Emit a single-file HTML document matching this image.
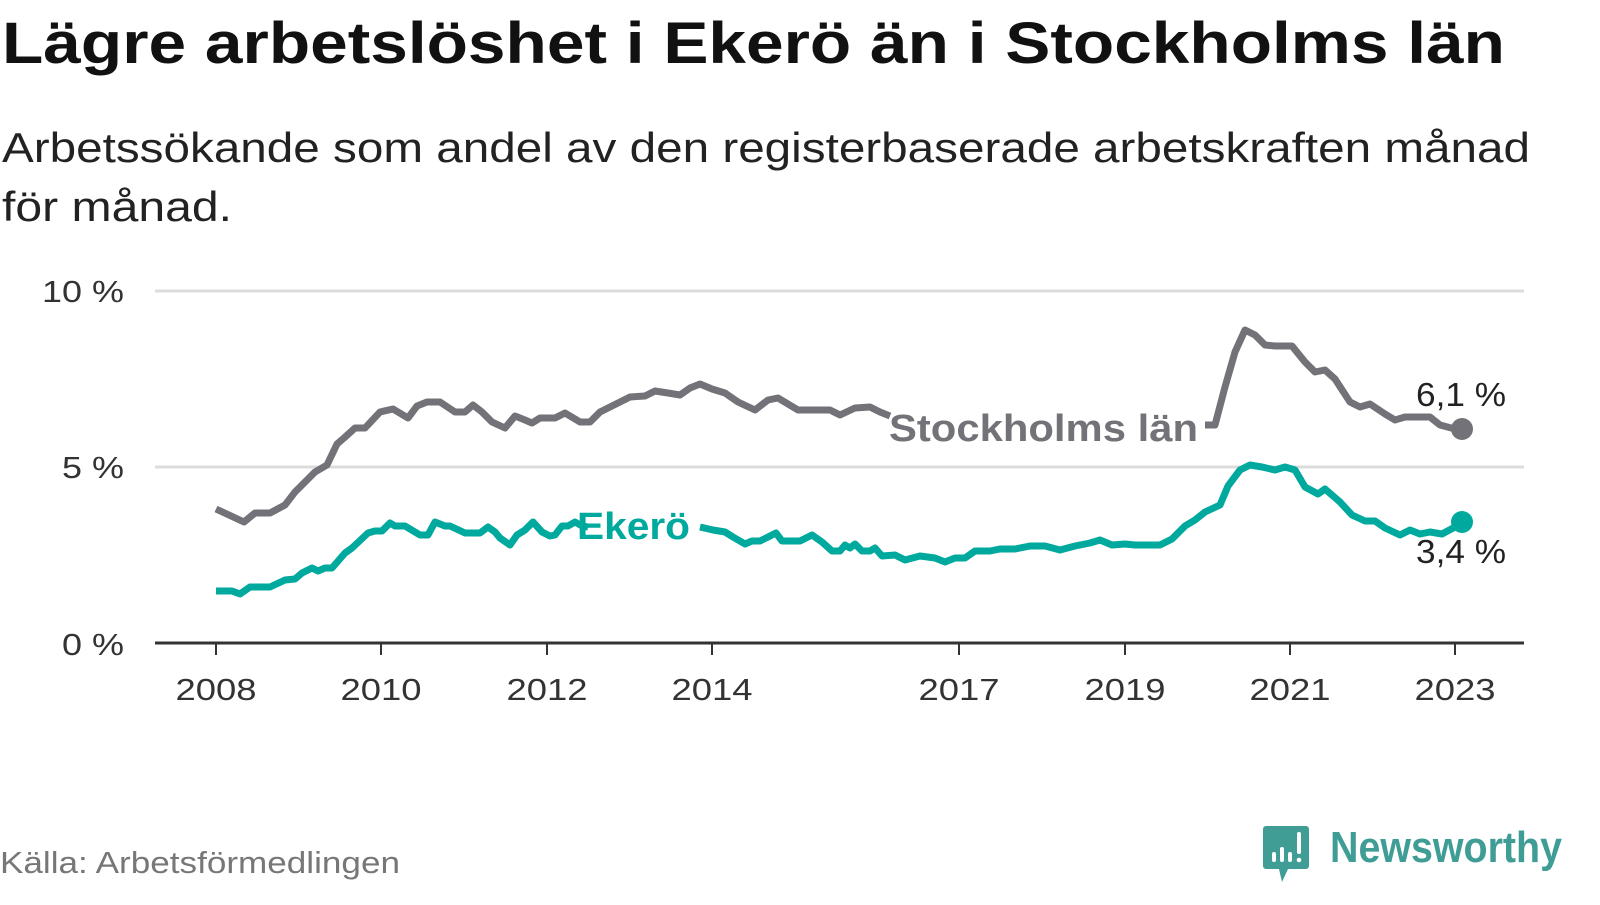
<!DOCTYPE html>
<html><head><meta charset="utf-8"><style>
body{margin:0;width:1600px;height:900px;background:#fff;overflow:hidden;font-family:"Liberation Sans","DejaVu Sans",sans-serif;}
</style></head><body>
<svg width="1600" height="900" xmlns="http://www.w3.org/2000/svg" font-family="Liberation Sans, DejaVu Sans, sans-serif">
<text x="2" y="63" font-size="58" font-weight="bold" fill="#111" textLength="1503" lengthAdjust="spacingAndGlyphs">Lägre arbetslöshet i Ekerö än i Stockholms län</text>
<text x="2" y="162" font-size="42" fill="#222" textLength="1528" lengthAdjust="spacingAndGlyphs">Arbetssökande som andel av den registerbaserade arbetskraften månad</text>
<text x="2" y="221" font-size="42" fill="#222" textLength="230" lengthAdjust="spacingAndGlyphs">för månad.</text>
<g stroke="#dcdcdc" stroke-width="3"><line x1="155" y1="291" x2="1524" y2="291"/><line x1="155" y1="467" x2="1524" y2="467"/></g>
<line x1="155" y1="643" x2="1524" y2="643" stroke="#333" stroke-width="3"/>
<g font-size="31" fill="#333" text-anchor="end" lengthAdjust="spacingAndGlyphs"><text x="124" y="302" textLength="82" lengthAdjust="spacingAndGlyphs">10 %</text><text x="124" y="478" textLength="62" lengthAdjust="spacingAndGlyphs">5 %</text><text x="124" y="655" textLength="62" lengthAdjust="spacingAndGlyphs">0 %</text></g>
<g stroke="#333" stroke-width="2">
<line x1="216" y1="643" x2="216" y2="655"/><line x1="381" y1="643" x2="381" y2="655"/><line x1="547" y1="643" x2="547" y2="655"/><line x1="712" y1="643" x2="712" y2="655"/><line x1="959" y1="643" x2="959" y2="655"/><line x1="1125" y1="643" x2="1125" y2="655"/><line x1="1290" y1="643" x2="1290" y2="655"/><line x1="1455" y1="643" x2="1455" y2="655"/></g>
<g font-size="31" fill="#333" text-anchor="middle"><text x="216" y="700" textLength="81" lengthAdjust="spacingAndGlyphs">2008</text><text x="381" y="700" textLength="81" lengthAdjust="spacingAndGlyphs">2010</text><text x="547" y="700" textLength="81" lengthAdjust="spacingAndGlyphs">2012</text><text x="712" y="700" textLength="81" lengthAdjust="spacingAndGlyphs">2014</text><text x="959" y="700" textLength="81" lengthAdjust="spacingAndGlyphs">2017</text><text x="1125" y="700" textLength="81" lengthAdjust="spacingAndGlyphs">2019</text><text x="1290" y="700" textLength="81" lengthAdjust="spacingAndGlyphs">2021</text><text x="1455" y="700" textLength="81" lengthAdjust="spacingAndGlyphs">2023</text></g>
<g fill="none" stroke-width="7" stroke-linejoin="round">
<polyline stroke="#737278" points="216,509 244,522 255,513 270,513 285,505 295,492 315,472 327,465 337,444 344,438 355,428 365,428 380,412 393,409 408,418 417,406 427,402 440,402 455,412 465,412 473,405 482,412 492,422 505,428 515,416 525,420 532,423 540,418 555,418 565,413 580,422 590,422 600,412 612,406 630,397 645,396 655,391 668,393 680,395 690,388 700,384 712,389 725,393 738,402 755,410 768,400 778,398 798,410 810,410 830,410 840,415 855,408 870,407 880,412 890,416"/>
<polyline stroke="#737278" points="1205,425 1215,425 1225,387 1235,352 1245,330 1255,335 1265,345 1275,346 1292,346 1305,362 1315,372 1325,370 1335,379 1350,402 1360,407 1370,404 1385,414 1395,420 1405,417 1430,417 1440,425 1455,429 1462,429"/>
<polyline stroke="#00a99d" points="216,591 232,591 240,594 250,587 270,587 285,580 295,579 302,573 312,568 318,571 325,568 332,568 345,553 352,548 368,533 375,531 382,531 390,523 395,526 405,526 420,535 428,535 435,522 445,526 450,526 465,533 480,533 488,527 495,532 500,538 510,545 517,535 525,530 533,522 542,532 550,536 555,535 562,526 568,526 575,522 582,526 588,527"/>
<polyline stroke="#00a99d" points="700,527 713,530 725,532 733,537 745,544 752,541 760,541 770,536 776,533 782,541 800,541 812,535 822,542 832,551 840,551 845,545 850,548 855,544 862,551 870,551 875,548 882,556 895,555 905,560 920,556 935,558 945,562 955,558 965,558 975,551 990,551 1000,549 1015,549 1030,546 1045,546 1060,550 1075,546 1090,543 1100,540 1112,545 1125,544 1135,545 1160,545 1172,539 1185,526 1195,520 1205,512 1220,505 1228,486 1240,470 1250,465 1262,467 1275,470 1285,467 1295,470 1305,487 1318,494 1325,489 1340,502 1352,515 1365,521 1375,521 1385,528 1400,535 1410,530 1420,534 1430,532 1442,534 1455,527 1462,522"/>
</g>
<circle cx="1462" cy="429" r="11" fill="#737278"/>
<circle cx="1462" cy="522" r="11" fill="#00a99d"/>
<text x="889" y="441" font-size="38" font-weight="bold" fill="#737278" textLength="309" lengthAdjust="spacingAndGlyphs">Stockholms län</text>
<text x="577" y="539" font-size="38" font-weight="bold" fill="#00a99d" textLength="113" lengthAdjust="spacingAndGlyphs">Ekerö</text>
<g font-size="33" fill="#222"><text x="1416" y="406" textLength="90" lengthAdjust="spacingAndGlyphs">6,1 %</text><text x="1416" y="563" textLength="90" lengthAdjust="spacingAndGlyphs">3,4 %</text></g>
<text x="0" y="873" font-size="31" fill="#777" textLength="400" lengthAdjust="spacingAndGlyphs">Källa: Arbetsförmedlingen</text>
<g transform="translate(1264,826)">
<path d="M2,0 H42 a3,3 0 0 1 3,3 V40 a3,3 0 0 1 -3,3 H24 L18,56 L15,43 H2 a3,3 0 0 1 -3,-3 V3 a3,3 0 0 1 3,-3Z" fill="#3f9d96"/>
<g fill="#fff"><rect x="8" y="26" width="4" height="10" rx="2"/><rect x="16" y="21" width="4" height="15" rx="2"/><rect x="24" y="26" width="4" height="10" rx="2"/><rect x="33" y="6" width="4" height="22" rx="2"/><circle cx="35" cy="34" r="2.3"/></g>
</g>
<text x="1330" y="862" font-size="44" font-weight="bold" fill="#3f9d96" textLength="232" lengthAdjust="spacingAndGlyphs">Newsworthy</text>
</svg>
</body></html>
